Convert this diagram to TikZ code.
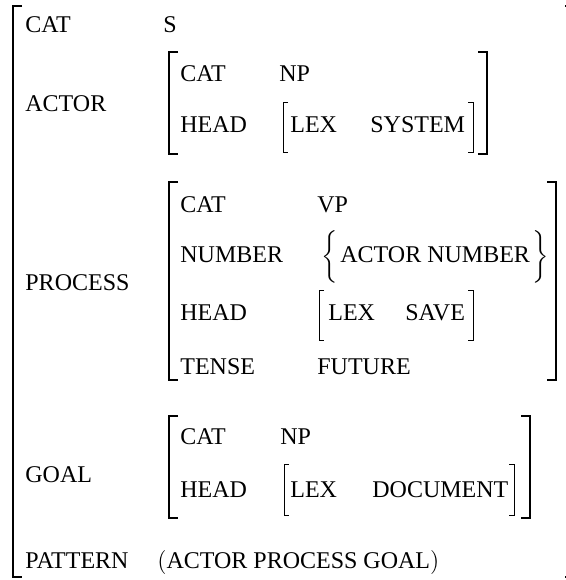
\documentclass[tikz,border=0pt]{standalone}
\usepackage{amsmath}
\usepackage{fontspec}
\setmainfont{Liberation Serif}
\usepackage{tikz}
\usetikzlibrary{positioning}

\begin{document}
\begin{tikzpicture}[x=0.5pt, y=-0.5pt,
        feat/.style={anchor=base west, inner sep=0pt, font=\fontsize{12}{14}\selectfont},
        delim/.style={anchor=base west, inner sep=0pt, font=\fontsize{10.8}{13}\selectfont},
        outerbrk/.style={line width=1.3pt},
        avmbrk/.style={line width=1pt},
        lexbrk/.style={line width=0.5pt}
    ]
        \useasboundingbox (0,0) rectangle (566,580);

        \draw[outerbrk] (22,6) -| (13,577) -- (22,577);
        \draw[outerbrk] (565,6) -| (574,577) -- (565,577);

        \node[feat] (cat) at (25,32) {CAT};
        \node[feat] (catv) at (163,32) {S};

        \node[feat] (actor) at (25,111) {ACTOR};
        \draw[avmbrk] (178,52) -| (169,154) -- (178,154);
        \draw[avmbrk] (478,52) -| (487,154) -- (478,154);
        \node[feat] (actcat) at (180,81) {CAT};
        \node[feat] (actcatv) at (279,81) {NP};
        \node[feat] (acthead) at (180,132) {HEAD};
        \draw[lexbrk] (288,102) -| (283,152) -- (288,152);
        \draw[lexbrk] (468,102) -| (473,152) -- (468,152);
        \node[feat] (actlex) at (290,132) {LEX};
        \node[feat] (actlexv) at (370,132) {SYSTEM};

        \node[feat] (process) at (25,290) {PROCESS};
        \draw[avmbrk] (178,182) -| (169,380) -- (178,380);
        \draw[avmbrk] (547,182) -| (556,380) -- (547,380);
        \node[feat] (proccat) at (180,212) {CAT};
        \node[feat] (proccatv) at (317,212) {VP};
        \node[feat] (procnum) at (180,262) {NUMBER};
        \node[delim] (numl) at (321,262) {\smash{$\bigg\{$}};
        \node[feat] (procnumv) at (340,262) {ACTOR NUMBER};
        \node[delim] (numr) at (532,262) {\smash{$\bigg\}$}};
        \node[feat] (prochead) at (180,320) {HEAD};
        \draw[lexbrk] (324,290) -| (319,340) -- (324,340);
        \draw[lexbrk] (468,290) -| (473,340) -- (468,340);
        \node[feat] (proclex) at (328,320) {LEX};
        \node[feat] (proclexv) at (405,320) {SAVE};
        \node[feat] (proctense) at (180,374) {TENSE};
        \node[feat] (proctensev) at (317,374) {FUTURE};

        \node[feat] (goal) at (25,482) {GOAL};
        \draw[avmbrk] (178,416) -| (169,518) -- (178,518);
        \draw[avmbrk] (521,416) -| (530,518) -- (521,518);
        \node[feat] (goalcat) at (180,444) {CAT};
        \node[feat] (goalcatv) at (280,444) {NP};
        \node[feat] (goalhead) at (180,497) {HEAD};
        \draw[lexbrk] (289,464) -| (284,515) -- (289,515);
        \draw[lexbrk] (509,464) -| (514,515) -- (509,515);
        \node[feat] (goallex) at (290,497) {LEX};
        \node[feat] (goallexv) at (372,497) {DOCUMENT};

        \node[feat] (pattern) at (25,568) {PATTERN};
        \node[feat] (patternv) at (157,568) {$($ACTOR PROCESS GOAL$)$};
    \end{tikzpicture}
\end{document}
